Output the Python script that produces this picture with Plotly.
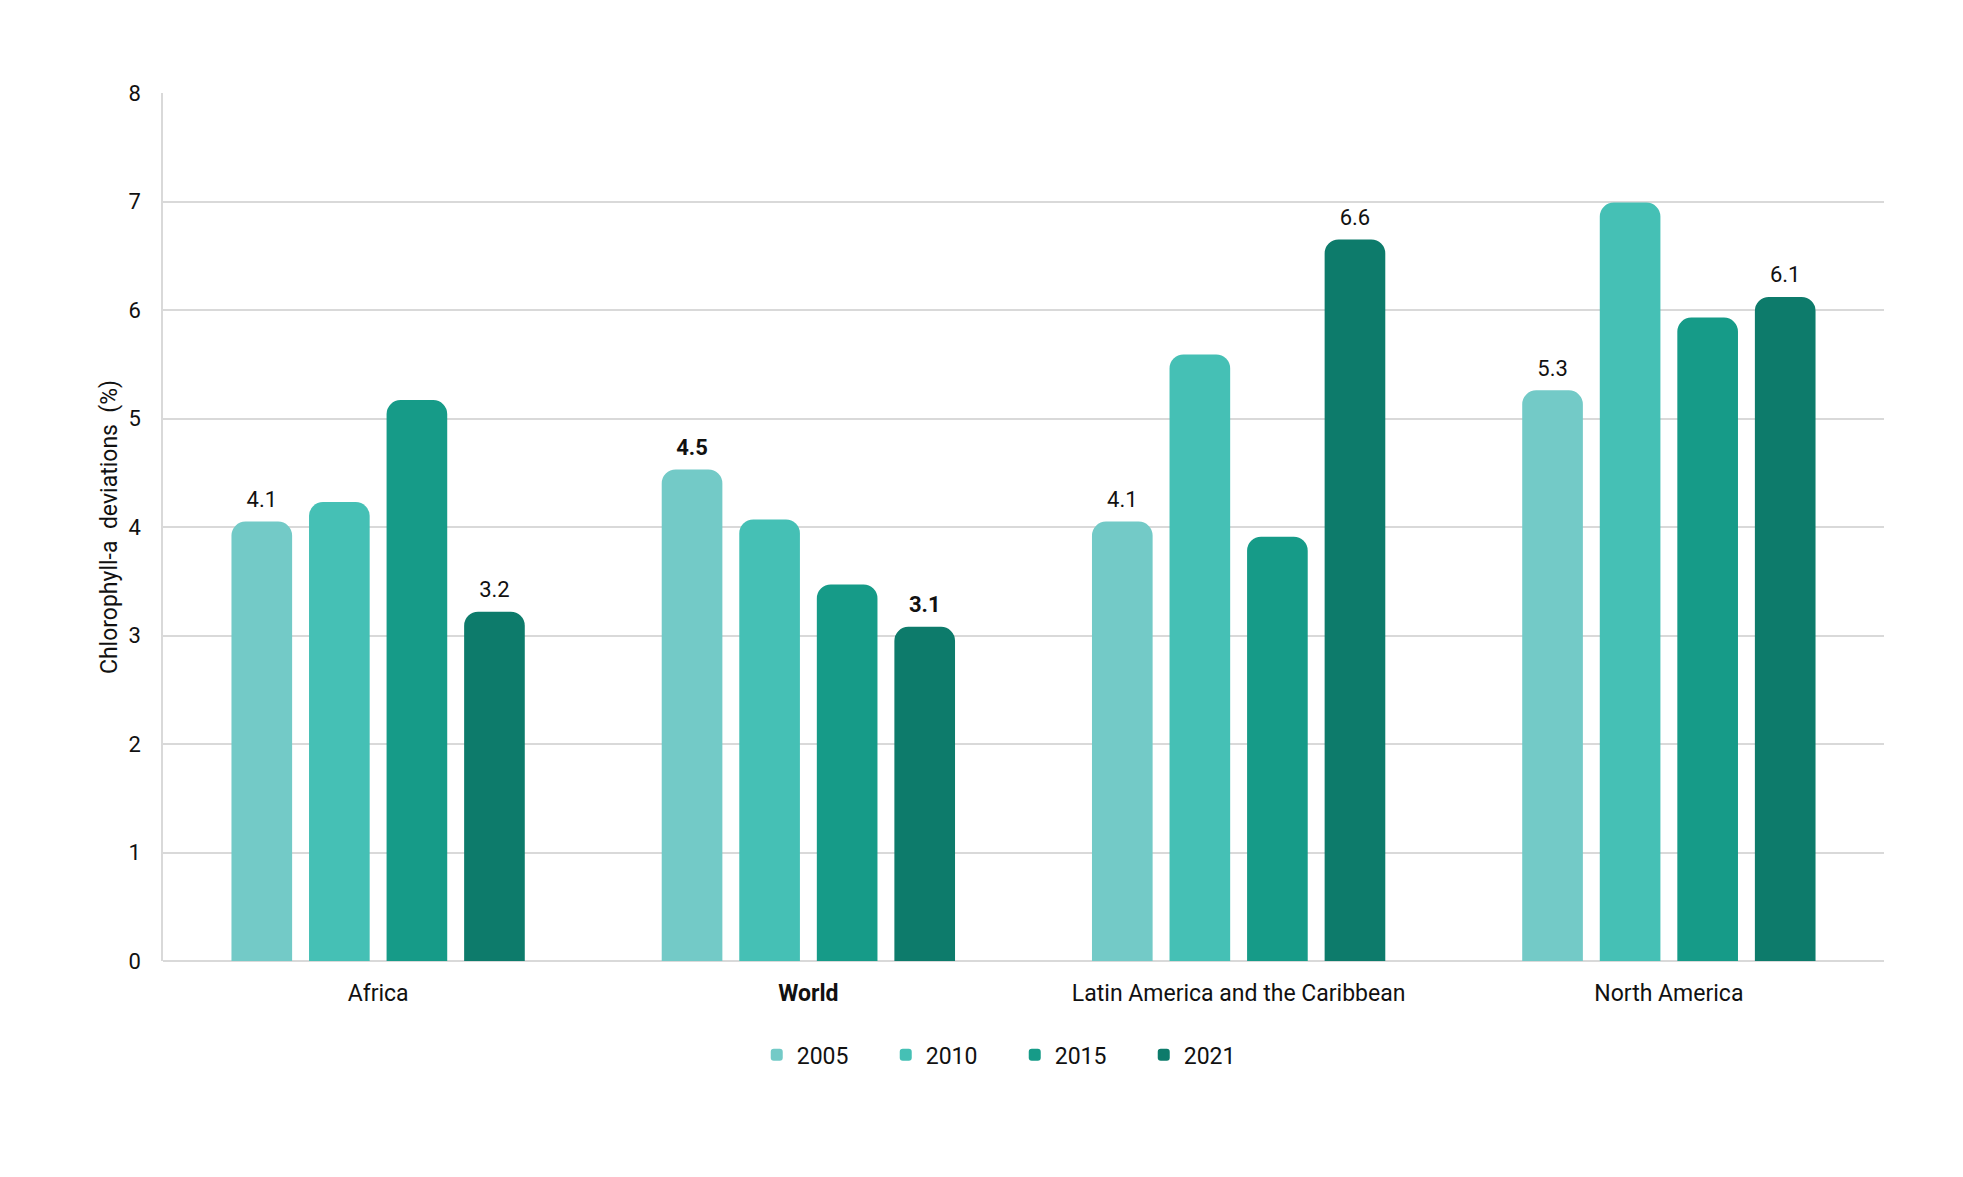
import plotly.graph_objects as go

categories = ["Africa", "World", "Latin America and the Caribbean", "North America"]
tick_labels = ["Africa", "<b>World</b>", "Latin America and the Caribbean", "North America"]
years = ["2005", "2010", "2015", "2021"]
values_2005 = [4.05, 4.53, 4.05, 5.26]
values_2010 = [4.23, 4.07, 5.59, 6.99]
values_2015 = [5.17, 3.47, 3.91, 5.93]
values_2021 = [3.22, 3.08, 6.65, 6.12]
labels_2005 = ["4.1", "<b>4.5</b>", "4.1", "5.3"]
labels_2010 = ["", "", "", ""]
labels_2015 = ["", "", "", ""]
labels_2021 = ["3.2", "<b>3.1</b>", "6.6", "6.1"]
colors = ["#73CAC7", "#45C0B5", "#169B88", "#0D7B6B"]

series = [values_2005, values_2010, values_2015, values_2021]
labels = [labels_2005, labels_2010, labels_2015, labels_2021]

fig = go.Figure()
for yr, vals, col in zip(years, series, colors):
    fig.add_trace(go.Bar(
        x=categories, y=vals, name=yr, offsetgroup=yr,
        marker=dict(color=col, cornerradius=14, line=dict(width=0)),
        hoverinfo="skip",
    ))
# value labels, grouped like the bars
for yr, vals, txt in zip(years, series, labels):
    fig.add_trace(go.Scatter(
        x=categories, y=vals, mode="markers+text", text=txt, offsetgroup=yr,
        textposition="top center", showlegend=False, cliponaxis=False,
        marker=dict(size=13, opacity=0),
        textfont=dict(size=22, color="#111111", family="Roboto"),
        hoverinfo="skip",
    ))

fig.update_layout(
    width=1963, height=1177,
    barmode="group", bargap=0.279, bargroupgap=0.218,
    scattermode="group", scattergap=0.279,
    plot_bgcolor="white", paper_bgcolor="white",
    margin=dict(l=155, r=87, t=85, b=224, autoexpand=False),
    font=dict(family="Roboto", size=22, color="#111111"),
    legend=dict(
        orientation="h", x=0.345, xanchor="left", y=-0.108, yanchor="middle",
        font=dict(size=23, family="Roboto", color="#111111"),
        itemwidth=30, traceorder="normal",
        entrywidth=84, entrywidthmode="pixels",
    ),
    showlegend=True,
)
fig.update_xaxes(
    tickmode="array", tickvals=categories, ticktext=tick_labels,
    showgrid=False, showline=False, ticks="", ticklabelstandoff=16,
    tickfont=dict(size=23, family="Roboto", color="#111111"),
)
fig.update_yaxes(
    range=[0, 8], dtick=1, showgrid=True, gridcolor="#D9D9D9", gridwidth=1.5,
    zeroline=True, zerolinecolor="#D9D9D9", zerolinewidth=1.5,
    showline=True, linecolor="#D9D9D9", linewidth=1.5,
    ticks="", ticklabelstandoff=16,
    tickfont=dict(size=22, family="Roboto", color="#111111"),
    title=dict(text="Chlorophyll-a  deviations  (%)", standoff=4,
               font=dict(size=23, family="Roboto", color="#111111")),
)

fig.write_html("out.html")
